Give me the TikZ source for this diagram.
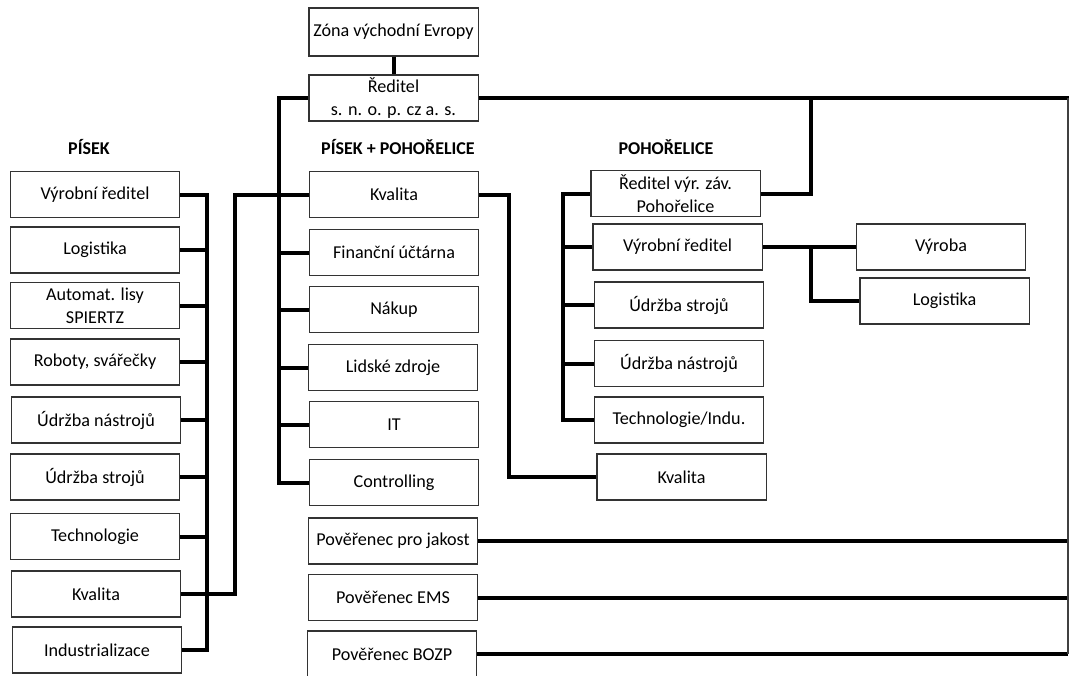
\documentclass[tikz,border=0pt]{standalone}
\usepackage{fontspec}
\setmainfont{Carlito}
\usepackage{tikz}

\tikzset{
  box/.style={draw=black!80, line width=1pt, minimum width=127pt, minimum height=34.5pt,
    inner sep=1pt, align=center, font=\fontsize{13.6}{17}\selectfont},
  heading/.style={font=\fontsize{13.5}{15}\selectfont\bfseries},
  wire/.style={line width=3pt},
  edgeline/.style={line width=1pt, draw=black!75}
}

\begin{document}
\begin{tikzpicture}[x=0.75pt,y=-0.75pt]
\useasboundingbox (0,0) rectangle (1069,675);
% headings
\node[heading] (hdPisek) at (89,147) {PÍSEK};
\node[heading] (hdBoth) at (398,147) {PÍSEK + POHOŘELICE};
\node[heading] (hdPoh) at (666,147) {POHOŘELICE};
% top
\node[box,minimum height=36pt] (zona) at (393.5,32) {Zóna východní Evropy};
\node[box] (reditel) at (393.5,98) {Ředitel\\s. n. o. p. cz a. s.};
% PISEK
\node[box] (pVyr) at (95,194.5) {Výrobní ředitel};
\node[box] (pLog) at (95,250) {Logistika};
\node[box] (pLisy) at (95,305.5) {Automat. lisy\\SPIERTZ};
\node[box] (pRob) at (95,362) {Roboty, svářečky};
\node[box] (pUdrN) at (96,420) {Údržba nástrojů};
\node[box] (pUdrS) at (95,477) {Údržba strojů};
\node[box] (pTech) at (95,536.5) {Technologie};
\node[box] (pKval) at (96,594) {Kvalita};
\node[box] (pInd) at (97,650) {Industrializace};
% PISEK + POHORELICE
\node[box] (mKval) at (394,194.5) {Kvalita};
\node[box] (mFin) at (394,252.5) {Finanční účtárna};
\node[box] (mNakup) at (394,309.5) {Nákup};
\node[box] (mLidi) at (393,367.5) {Lidské zdroje};
\node[box] (mIT) at (394,424.5) {IT};
\node[box] (mCtrl) at (394,482.5) {Controlling};
\node[box] (jakost) at (393,541) {Pověřenec pro jakost};
\node[box] (ems) at (393,597.5) {Pověřenec EMS};
\node[box] (bozp) at (392,654) {Pověřenec BOZP};
% POHORELICE
\node[box] (hRed) at (675.5,193.5) {Ředitel výr. záv.\\Pohořelice};
\node[box] (hVyr) at (677.5,247) {Výrobní ředitel};
\node[box] (hUdrS) at (679,305) {Údržba strojů};
\node[box] (hUdrN) at (679,363.5) {Údržba nástrojů};
\node[box] (hTech) at (679,420) {Technologie/Indu.};
\node[box] (hKval) at (681.5,477) {Kvalita};
\node[box] (vyroba) at (941,247) {Výroba};
\node[box] (hLog) at (944.5,301) {Logistika};
% bus lines
\coordinate (pBus) at (207,0);
\coordinate (kBus) at (235,0);
\coordinate (mBus) at (279,0);
\coordinate (qBus) at (509,0);
\coordinate (hBus) at (563,0);
\coordinate (rBus) at (811,0);
\coordinate (rEdge) at (1068,0);
% connectors
\draw[wire] (zona) -- (reditel);
\draw[wire] (reditel.west) -| (mBus |- mCtrl.west) -- (mCtrl.west);
\draw[wire] (mFin.west) -- (mFin.west -| mBus);
\draw[wire] (mNakup.west) -- (mNakup.west -| mBus);
\draw[wire] (mLidi.west) -- (mLidi.west -| mBus);
\draw[wire] (mIT.west) -- (mIT.west -| mBus);
\draw[wire] (pVyr.east) -| (pBus |- pInd.east) -- (pInd.east);
\draw[wire] (pLog.east) -- (pLog.east -| pBus);
\draw[wire] (pLisy.east) -- (pLisy.east -| pBus);
\draw[wire] (pRob.east) -- (pRob.east -| pBus);
\draw[wire] (pUdrN.east) -- (pUdrN.east -| pBus);
\draw[wire] (pUdrS.east) -- (pUdrS.east -| pBus);
\draw[wire] (pTech.east) -- (pTech.east -| pBus);
\draw[wire] (pKval.east) -| (kBus |- mKval.west) -- (mKval.west);
\draw[wire] (mKval.east) -| (qBus |- hKval.west) -- (hKval.west);
\draw[wire] (reditel.east) -- (reditel.east -| 1069,0);
\draw[wire] (hRed.east) -| (rBus |- reditel.east);
\draw[wire] (hRed.west) -| (hBus |- hTech.west) -- (hTech.west);
\draw[wire] (hVyr.west) -- (hVyr.west -| hBus);
\draw[wire] (hUdrS.west) -- (hUdrS.west -| hBus);
\draw[wire] (hUdrN.west) -- (hUdrN.west -| hBus);
\draw[wire] (hVyr.east) -- (vyroba.west);
\draw[wire] (rBus |- hVyr.east) |- (hLog.west);
\draw[wire] (jakost.east) -- (jakost.east -| rEdge);
\draw[wire] (ems.east) -- (ems.east -| rEdge);
\draw[wire] (bozp.east) -- (bozp.east -| rEdge);
\draw[edgeline] (rEdge |- reditel.east) -- (rEdge |- bozp.east);
\end{tikzpicture}
\end{document}
